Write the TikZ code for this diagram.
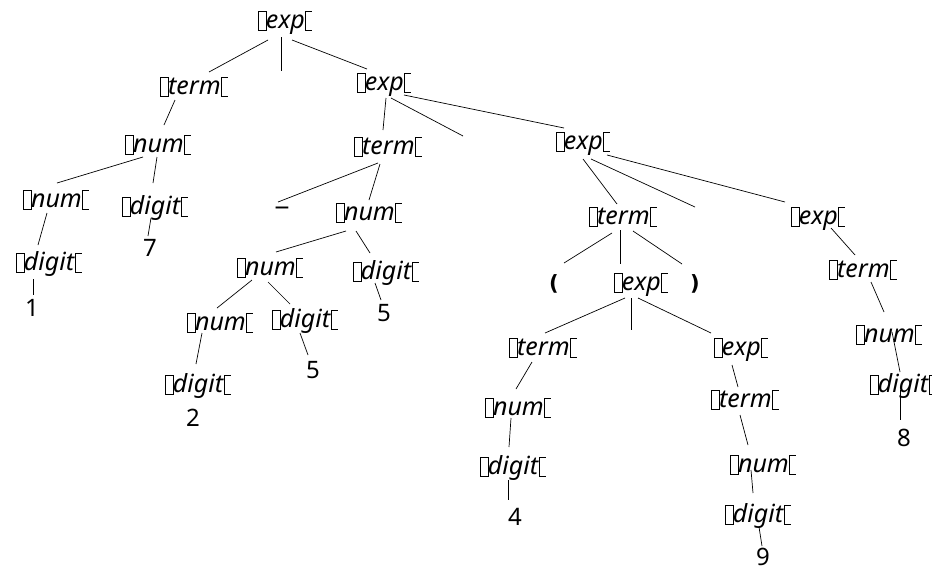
\documentclass[tikz,border=0pt]{standalone}
\usepackage{fontspec}
\setmainfont{Noto Sans}
\newfontfamily\parfont{DejaVu Sans}
\setlength{\fboxsep}{0pt}
\setlength{\fboxrule}{0.9pt}
\newcommand\glL{\kern0.5pt\fbox{\rule[-2pt]{0pt}{18pt}\hspace{7pt}}}
\newcommand\glR{\kern0.5pt\rlap{\rule[-2.9pt]{7pt}{0.9pt}}\rlap{\rule[16pt]{7pt}{0.9pt}}\rule[-2.9pt]{0.9pt}{19.8pt}\hspace{6pt}}
\newcommand\ntsym[1]{\glL\kern-1pt\textit{#1}\glR}
\tikzset{
  lab/.style={font=\fontsize{25}{29}\selectfont, inner sep=0pt, text height=17pt, text depth=3pt},
  leaf/.style={font=\fontsize{24}{28}\selectfont, inner sep=0pt, text height=17pt, text depth=3pt},
  dashsym/.style={font=\bfseries\fontsize{27}{30}\selectfont, inner sep=0pt, text height=17pt, text depth=3pt},
  paren/.style={font=\parfont\bfseries\fontsize{21}{24}\selectfont, inner sep=0pt, text height=17pt, text depth=3pt},
  edge/.style={line width=0.7pt, draw=black}
}
\begin{document}
\begin{tikzpicture}[x=1pt,y=-1pt]
\useasboundingbox[fill=white] (0,0) rectangle (932,571);
% nodes
\node[lab] (root) at (282,21) {\ntsym{exp}};
\node[lab] (term1) at (191,87) {\ntsym{term}};
\node[lab] (exp1) at (381,83) {\ntsym{exp}};
\node[lab] (num1) at (155,145) {\ntsym{num}};
\node[lab] (num1a) at (53,200) {\ntsym{num}};
\node[lab] (dig7) at (152,207) {\ntsym{digit}};
\node[lab] (dig1) at (46,263) {\ntsym{digit}};
\node[leaf] (one) at (32,309.5) {1};
\node[leaf] (seven) at (150,249.5) {7};
\node[lab] (term2) at (385,147) {\ntsym{term}};
\node[lab] (exp2) at (580,142) {\ntsym{exp}};
\node[dashsym] (dash) at (282,210) {−};
\node[lab] (num2) at (366,213) {\ntsym{num}};
\node[lab] (num3) at (267,268) {\ntsym{num}};
\node[lab] (dig5r) at (383,272) {\ntsym{digit}};
\node[leaf] (fiver) at (384,314.5) {5};
\node[lab] (num4) at (217,323) {\ntsym{num}};
\node[lab] (dig5m) at (302,320) {\ntsym{digit}};
\node[leaf] (fivem) at (313,371.5) {5};
\node[lab] (dig2) at (195,385) {\ntsym{digit}};
\node[leaf] (two) at (193,419.5) {2};
\node[lab] (term3) at (620,217) {\ntsym{term}};
\node[lab] (exp3) at (815,217) {\ntsym{exp}};
\node[paren] (lpar) at (554,283) {(};
\node[lab] (exp4) at (638,283) {\ntsym{exp}};
\node[paren] (rpar) at (695,283) {)};
\node[lab] (term4) at (860,270) {\ntsym{term}};
\node[lab] (num8) at (886,335) {\ntsym{num}};
\node[lab] (dig8) at (900,385) {\ntsym{digit}};
\node[leaf] (eight) at (904,439.5) {8};
\node[lab] (term5) at (540,348) {\ntsym{term}};
\node[lab] (exp5) at (738,348) {\ntsym{exp}};
\node[lab] (num5) at (515,408) {\ntsym{num}};
\node[lab] (dig4) at (510,467) {\ntsym{digit}};
\node[leaf] (four) at (515,518.5) {4};
\node[lab] (term6) at (742,400) {\ntsym{term}};
\node[lab] (num6) at (760,465) {\ntsym{num}};
\node[lab] (dig9) at (755,515) {\ntsym{digit}};
\node[leaf] (nine) at (763,558) {9};
% free ends of unlabelled children
\coordinate (e0) at (281,71);
\coordinate (e1) at (463,136);
\coordinate (e2) at (695,207);
\coordinate (e3) at (631,330);
% edges
\draw[edge] ([shift={(-14,19)}]root.center) -- ([shift={(18,-15)}]term1.center);
\draw[edge] ([shift={(-1,16)}]root.center) -- (e0);
\draw[edge] ([shift={(10,19)}]root.center) -- ([shift={(-14,-14)}]exp1.center);
\draw[edge] ([shift={(-16,13)}]term1.center) -- ([shift={(9,-20)}]num1.center);
\draw[edge] ([shift={(-12,12)}]num1.center) -- ([shift={(4,-17)}]num1a.center);
\draw[edge] ([shift={(2,12)}]num1.center) -- ([shift={(1,-24)}]dig7.center);
\draw[edge] ([shift={(-6,13)}]num1a.center) -- ([shift={(-8,-18)}]dig1.center);
\draw[edge] ([shift={(-13,16)}]dig1.center) -- ([shift={(1,-14.5)}]one.center);
\draw[edge] ([shift={(-1,11)}]dig7.center) -- ([shift={(-2,-13.5)}]seven.center);
\draw[edge] ([shift={(5,15)}]exp1.center) -- ([shift={(-2,-17)}]term2.center);
\draw[edge] ([shift={(10,15)}]exp1.center) -- (e1);
\draw[edge] ([shift={(23,12)}]exp1.center) -- ([shift={(-16,-14)}]exp2.center);
\draw[edge] ([shift={(-7,16)}]term2.center) -- ([shift={(-4,-8)}]dash.center);
\draw[edge] ([shift={(-5,17)}]term2.center) -- ([shift={(3,-13)}]num2.center);
\draw[edge] ([shift={(-20,18)}]num2.center) -- ([shift={(9,-16)}]num3.center);
\draw[edge] ([shift={(-10,18)}]num2.center) -- ([shift={(-13,-19)}]dig5r.center);
\draw[edge] ([shift={(-8,11)}]dig5r.center) -- ([shift={(-3,-14.5)}]fiver.center);
\draw[edge] ([shift={(-15,12)}]num3.center) -- ([shift={(0,-15)}]num4.center);
\draw[edge] ([shift={(1,14)}]num3.center) -- ([shift={(-12,-16)}]dig5m.center);
\draw[edge] ([shift={(-2,13)}]dig5m.center) -- ([shift={(-5,-16.5)}]fivem.center);
\draw[edge] ([shift={(-15,10)}]num4.center) -- ([shift={(1,-21)}]dig2.center);
\draw[edge] ([shift={(3,17)}]exp2.center) -- ([shift={(-3,-13)}]term3.center);
\draw[edge] ([shift={(11,17)}]exp2.center) -- (e2);
\draw[edge] ([shift={(27,13)}]exp2.center) -- ([shift={(-30,-15)}]exp3.center);
\draw[edge] ([shift={(-8,16)}]term3.center) -- ([shift={(10,-20)}]lpar.center);
\draw[edge] ([shift={(0,13)}]term3.center) -- ([shift={(-18,-19)}]exp4.center);
\draw[edge] ([shift={(13,14)}]term3.center) -- ([shift={(-13,-19)}]rpar.center);
\draw[edge] ([shift={(16,11)}]exp3.center) -- ([shift={(-5,-15)}]term4.center);
\draw[edge] ([shift={(11,12)}]term4.center) -- ([shift={(-2,-23)}]num8.center);
\draw[edge] ([shift={(6,-3)}]num8.center) -- ([shift={(0,-13)}]dig8.center);
\draw[edge] ([shift={(0,5)}]dig8.center) -- ([shift={(-4,-19.5)}]eight.center);
\draw[edge] ([shift={(-13,15)}]exp4.center) -- ([shift={(5,-15)}]term5.center);
\draw[edge] ([shift={(-7,15)}]exp4.center) -- (e3);
\draw[edge] ([shift={(0,15)}]exp4.center) -- ([shift={(-27,-15)}]exp5.center);
\draw[edge] ([shift={(-8,14)}]term5.center) -- ([shift={(1,-19)}]num5.center);
\draw[edge] ([shift={(-4,10)}]num5.center) -- ([shift={(-1,-20)}]dig4.center);
\draw[edge] ([shift={(-2,13)}]dig4.center) -- ([shift={(-7,-18.5)}]four.center);
\draw[edge] ([shift={(-6,17)}]exp5.center) -- ([shift={(-4,-13)}]term6.center);
\draw[edge] ([shift={(-2,15)}]term6.center) -- ([shift={(-12,-20)}]num6.center);
\draw[edge] ([shift={(-9,5)}]num6.center) -- ([shift={(-2,-22)}]dig9.center);
\draw[edge] ([shift={(4,12)}]dig9.center) -- ([shift={(-1,-12)}]nine.center);
\end{tikzpicture}
\end{document}
